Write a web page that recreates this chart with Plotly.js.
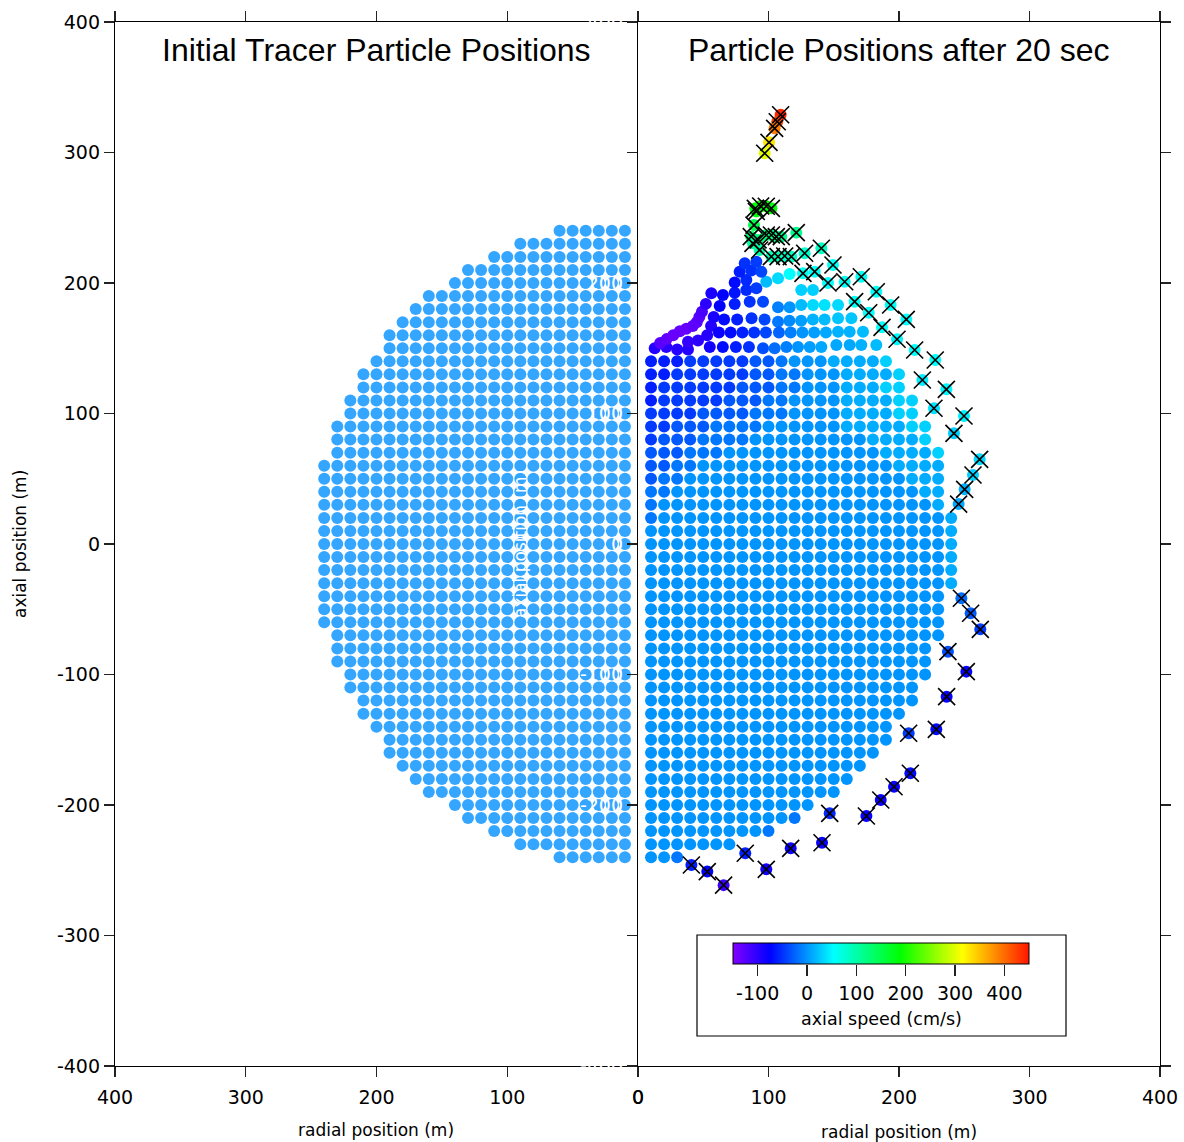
<!DOCTYPE html>
<html>
<head>
<meta charset="utf-8">
<script src="https://cdn.plot.ly/plotly-3.0.1.min.js"></script>
<style>
  html, body { margin: 0; padding: 0; background: #fff; }
  #chart { width: 1184px; height: 1142px; }
</style>
</head>
<body>
<div id="chart"></div>
<script>
// ---- Initial tracer grid: one row per axial position, outermost radial position per row
const initRowY    = [240,230,220,210,200,190,180,170,160,150,140,130,120,110,100,90,80,70,60,50,40,30,20,10,0,
                     -10,-20,-30,-40,-50,-60,-70,-80,-90,-100,-110,-120,-130,-140,-150,-160,-170,-180,-190,-200,-210,-220,-230,-240];
const initRowMaxX = [60,90,110,130,140,160,170,180,190,190,200,210,210,220,220,230,230,230,240,240,240,240,240,240,240,
                     240,240,240,240,240,240,230,230,230,220,220,210,210,200,190,190,180,170,160,140,130,110,90,60];
const initColor = '#35a6ff';

// ---- Particles after 20 s still sitting on the regular grid
// one character per 10 m column starting at 10 m; the character picks an axial speed level
const speedKeys   = '0123456789a';
const speedLevels = [-130,-105,-85,-60,-45,-30,-15,0,12,30,50];
const gridRowY = [140,130,120,110,100,90,80,70,60,50,40,30,20,10,0,
                  -10,-20,-30,-40,-50,-60,-70,-80,-90,-100,-110,-120,-130,-140,-150,-160,-170,-180,-190,-200,-210,-220,-230,-240];
const gridRowCodes = [
  '3334444455677788889',
  '33444444556677788889',
  '34444445556677788899',
  '344444555667777888899',
  '444455556667777888899',
  '4455566667777778888899',
  '4555666677777777788889',
  '55566677777777777788889',
  '55667777777777777778888',
  '56677777777777777777888',
  '66777777777777777777788',
  '67777777777777777777778',
  '677777777777777777777778',
  '777777777777777777777778',
  '777777777777777777777778',
  '777777777777777777777778',
  '777777777777777777777778',
  '777777777777777777777778',
  '77777777777777777777777',
  '77777777777777777777777',
  '77777777777777777777777',
  '77777777777777777777777',
  '7777777777777777777777',
  '7777777777777777777777',
  '7777777777777777777777',
  '777777777777777777777',
  '777777777777777777777',
  '77777777777777777777',
  '7777777777777777777',
  '7777777777777777777',
  '777777777777777777',
  '77777777777777777',
  '7777777777777777',
  '777777777777777',
  '7777777777777',
  '777777777776',
  '7777777776',
  '7777777',
  '776'
];

// ---- Displaced interior particles in the upper cap (radial m, axial m, axial speed cm/s)
const driftX = [
  12.8,21.7,30,38.3,
  17,22,27,32,37,42,45,47,49,52,
  38.3,46,53,56,58,
  56.2,65.1,74.1,83,90.7,
  62.6,74.1,85.6,95.8,107.3,116.2,125.1,134.1,143,153.3,
  66,76,87,97,107.3,116,125,134,143,153.3,163.5,
  62,71,80,89,98,108,117,126,135,144,153.3,162.2,172.4,
  55,65,75,85,95.8,104.7,113.7,122.6,131.6,140.5,152,162.2,171.1,182.6,
  74.1,83,98.3,107.3,116.2,77.9,86.8,94.5,81.8,90.7,125.1,134.1
];
const driftY = [
  150,151,149,149,
  154,157,160,163,165,167,170,174,178,184,
  155,156,160,167,174,
  192.1,190.8,192.6,194.6,195.9,
  182.4,183.9,185.7,185.7,181.4,181.4,183.1,183.1,183.1,183.1,
  172,172,173,172,170.3,171,171,172,172,173,173,
  162,162,162,162,162,162,162,162,162,162,162.7,162.7,162.7,
  151,151,151,151,150,150,151,151,151,151,152.5,152.5,152.5,152.5,
  200.3,202.3,201,203.6,206.9,208.7,209.5,208.7,215.1,216.3,194.6,194.6
];
const driftSpeed = [
  -95,-100,-95,-95,
  -125,-130,-135,-135,-135,-130,-128,-125,-118,-100,
  -105,-100,-95,-95,-90,
  -90,-75,-65,-55,-45,
  -75,-60,-50,-40,-10,0,20,35,40,35,
  -70,-60,-50,-40,-15,-5,5,15,20,25,25,
  -80,-70,-60,-50,-40,-25,-10,0,5,10,15,15,20,
  -85,-70,-60,-50,-35,-20,-10,0,5,10,10,10,15,20,
  -70,-55,20,35,55,-60,-50,-40,-50,-45,30,30
];

// ---- Marked tracer particles (radial m, axial m, axial speed cm/s)
const tracerX = [109.3,106.7,104.7,100.4,97.1,
                 89.9,94,98.3,102.2,90.7,
                 88.9,86.8,92,98.3,102.2,106,109.8,121.3,88.1,93.2,
                 102.2,107.3,112.4,117.5,127.7,140.5,
                 126.4,135.4,145.6,149.4,158.4,171.1,182.6,166,176.8,193.6,187,205.6,198.5,212,227.8,
                 217.9,236.3,226.8,249.8,242.1,261.8,256.7,250.3,245.7,
                 247.8,254.9,262.3,237.5,251.6,236.5,228.6,207.4,208.7,196.2,186,175,146.9,141,117,98.3,82.2,65.6,53.1,40.9];
const tracerY = [328.9,323.6,318.5,307.8,299.4,
                 257.2,259,258.8,257.2,254.8,
                 244.4,235.5,233,236.8,236.8,235.5,235.5,238.6,230.4,225.3,
                 220.2,220.2,220.7,220.2,222.8,226.6,
                 207.4,208.7,200,213.8,201,204.8,193.3,185.7,177.2,183.1,166,172.1,156.9,148.7,141,
                 125.7,118.5,104,98.1,84.8,64.9,52.9,41.9,30.6,
                 -41.6,-53.1,-65.4,-82.5,-97.8,-117,-142,-145,-175.7,-186,-196.2,-208.4,-206.4,-228.9,-233.2,-249.3,-237,-261.4,-251,-246];
const tracerSpeed = [440,420,390,330,300,
                     190,195,190,185,180,
                     150,130,125,125,120,120,115,115,110,100,
                     90,90,85,85,80,85,
                     60,60,55,60,60,60,60,60,55,60,55,55,50,55,55,
                     45,50,40,45,30,35,30,15,10,
                     -20,-30,-45,-35,-80,-80,-70,-45,-70,-80,-80,-80,-55,-80,-80,-85,-60,-110,-75,-60];

// ---- Colour scale
const speedMin = -150, speedMax = 450;
const speedTicks = [-100,0,100,200,300,400];
const rainbow = [
  [0.0,  'rgb(130,0,255)'],
  [0.125,'rgb(0,0,255)'],
  [0.34, 'rgb(0,255,255)'],
  [0.565,'rgb(0,255,0)'],
  [0.775,'rgb(255,255,0)'],
  [1.0,  'rgb(255,20,0)']
];

// ---- Build marker lists
const initX = [], initY = [];
initRowY.forEach((y, i) => {
  for (let x = 10; x <= initRowMaxX[i]; x += 10) { initX.push(x); initY.push(y); }
});

const afterX = [], afterY = [], afterS = [];
gridRowY.forEach((y, i) => {
  const codes = gridRowCodes[i];
  for (let j = 0; j < codes.length; j++) {
    if (codes[j] === '.') continue;
    afterX.push(10 * (j + 1)); afterY.push(y);
    afterS.push(speedLevels[speedKeys.indexOf(codes[j])]);
  }
});
driftX.forEach((x, i) => { afterX.push(x); afterY.push(driftY[i]); afterS.push(driftSpeed[i]); });

// pixel helpers for paper placement
const W = 1184, H = 1142;
const fx = p => p / W;
const fy = p => 1 - p / H;

const dot = 12;
const traces = [
  {
    type: 'scatter', mode: 'markers', x: initX, y: initY, xaxis: 'x', yaxis: 'y',
    marker: { size: dot, color: initColor, line: { width: 0 } }, hoverinfo: 'skip'
  },
  {
    type: 'scatter', mode: 'markers', x: afterX, y: afterY, xaxis: 'x2', yaxis: 'y2',
    marker: {
      size: dot, color: afterS, colorscale: rainbow, cmin: speedMin, cmax: speedMax,
      line: { width: 0 }, showscale: true,
      colorbar: {
        orientation: 'h', lenmode: 'pixels', len: 296, thickness: 21,
        x: fx(881), xanchor: 'center', y: fy(943), yanchor: 'top', xpad: 0, ypad: 0,
        outlinewidth: 1, outlinecolor: '#000', ticks: '', showticklabels: false
      }
    },
    hoverinfo: 'skip'
  },
  {
    type: 'scatter', mode: 'markers', x: tracerX, y: tracerY, xaxis: 'x2', yaxis: 'y2',
    marker: { size: dot, color: tracerSpeed, colorscale: rainbow, cmin: speedMin, cmax: speedMax, line: { width: 0 }, showscale: false },
    hoverinfo: 'skip'
  },
  {
    type: 'scatter', mode: 'markers', x: tracerX, y: tracerY, xaxis: 'x2', yaxis: 'y2',
    marker: { symbol: 'x-thin', size: 17, color: '#000', line: { width: 1.6, color: '#000' } },
    hoverinfo: 'skip'
  },
  // empty trace that carries the colour-bar scale axis
  { type: 'scatter', mode: 'markers', x: [], y: [], xaxis: 'x3', yaxis: 'y3', hoverinfo: 'skip' }
];

const tickFont = { family: 'DejaVu Sans', size: 19, color: '#000' };
const axisBase = {
  showgrid: false, zeroline: false, showline: true, linecolor: '#000', linewidth: 1.2,
  ticks: 'outside', ticklen: 10, tickwidth: 1.2, tickcolor: '#222',
  tickmode: 'array', tickfont: tickFont, fixedrange: true
};
const radTicks = [0,100,200,300,400];
const axTicks = [-400,-300,-200,-100,0,100,200,300,400];

const layout = {
  width: W, height: H,
  margin: { l: 0, r: 0, t: 0, b: 0 },
  paper_bgcolor: '#fff', plot_bgcolor: 'rgba(0,0,0,0)',
  showlegend: false,
  xaxis: Object.assign({}, axisBase, {
    domain: [fx(115), fx(638)], range: [400, 0], anchor: 'y', mirror: 'ticks',
    tickvals: radTicks, ticktext: radTicks.map(String), ticklabelstandoff: 4
  }),
  yaxis: Object.assign({}, axisBase, {
    domain: [fy(1066), fy(22)], range: [-400, 400], anchor: 'x', mirror: false,
    tickvals: axTicks, ticktext: axTicks.map(String)
  }),
  xaxis2: Object.assign({}, axisBase, {
    domain: [fx(638), fx(1160)], range: [0, 400], anchor: 'y2', mirror: 'ticks',
    tickvals: radTicks, ticktext: radTicks.map(String), ticklabelstandoff: 4
  }),
  yaxis2: Object.assign({}, axisBase, {
    domain: [fy(1066), fy(22)], range: [-400, 400], anchor: 'x2', mirror: 'ticks',
    tickvals: axTicks, ticktext: axTicks.map(String),
    tickfont: { family: 'DejaVu Sans', size: 19, color: '#fff' }
  }),
  // scale axis under the colour bar
  xaxis3: {
    domain: [fx(733), fx(1029)], range: [speedMin, speedMax], anchor: 'y3', side: 'bottom',
    showgrid: false, zeroline: false, showline: false,
    ticks: 'outside', ticklen: 11, tickwidth: 1.3, tickcolor: '#222',
    tickmode: 'array', tickvals: speedTicks, ticktext: speedTicks.map(String),
    tickfont: tickFont, ticklabelstandoff: 1, fixedrange: true
  },
  yaxis3: {
    domain: [fy(964), fy(943)], range: [0, 1], anchor: 'x3', visible: false, fixedrange: true
  },
  shapes: [
    { type: 'rect', xref: 'paper', yref: 'paper', x0: fx(697), x1: fx(1066), y0: fy(1036), y1: fy(935),
      line: { color: '#000', width: 1.2 }, fillcolor: 'rgba(0,0,0,0)' }
  ],
  annotations: [
    { text: 'Initial Tracer Particle Positions', xref: 'paper', yref: 'paper', x: fx(376), y: fy(50),
      xanchor: 'center', yanchor: 'middle', showarrow: false,
      font: { family: 'Liberation Sans', size: 32, color: '#000' } },
    { text: 'Particle Positions after 20 sec', xref: 'paper', yref: 'paper', x: fx(899), y: fy(50),
      xanchor: 'center', yanchor: 'middle', showarrow: false,
      font: { family: 'Liberation Sans', size: 32, color: '#000' } },
    { text: 'radial position (m)', xref: 'paper', yref: 'paper', x: fx(376), y: fy(1130),
      xanchor: 'center', yanchor: 'middle', showarrow: false,
      font: { family: 'DejaVu Sans', size: 17, color: '#000' } },
    { text: 'radial position (m)', xref: 'paper', yref: 'paper', x: fx(899), y: fy(1132),
      xanchor: 'center', yanchor: 'middle', showarrow: false,
      font: { family: 'DejaVu Sans', size: 17, color: '#000' } },
    { text: 'axial position (m)', xref: 'paper', yref: 'paper', x: fx(20), y: fy(544),
      xanchor: 'center', yanchor: 'middle', textangle: -90, showarrow: false,
      font: { family: 'DejaVu Sans', size: 17, color: '#000' } },
    { text: 'axial position (m)', xref: 'paper', yref: 'paper', x: fx(520), y: fy(544),
      xanchor: 'center', yanchor: 'middle', textangle: -90, showarrow: false,
      font: { family: 'DejaVu Sans', size: 17, color: '#fff' } },
    { text: 'axial speed (cm/s)', xref: 'paper', yref: 'paper', x: fx(881), y: fy(1019),
      xanchor: 'center', yanchor: 'middle', showarrow: false,
      font: { family: 'DejaVu Sans', size: 17.5, color: '#000' } }
  ]
};

Plotly.newPlot('chart', traces, layout, { staticPlot: true, displayModeBar: false });
</script>
</body>
</html>
